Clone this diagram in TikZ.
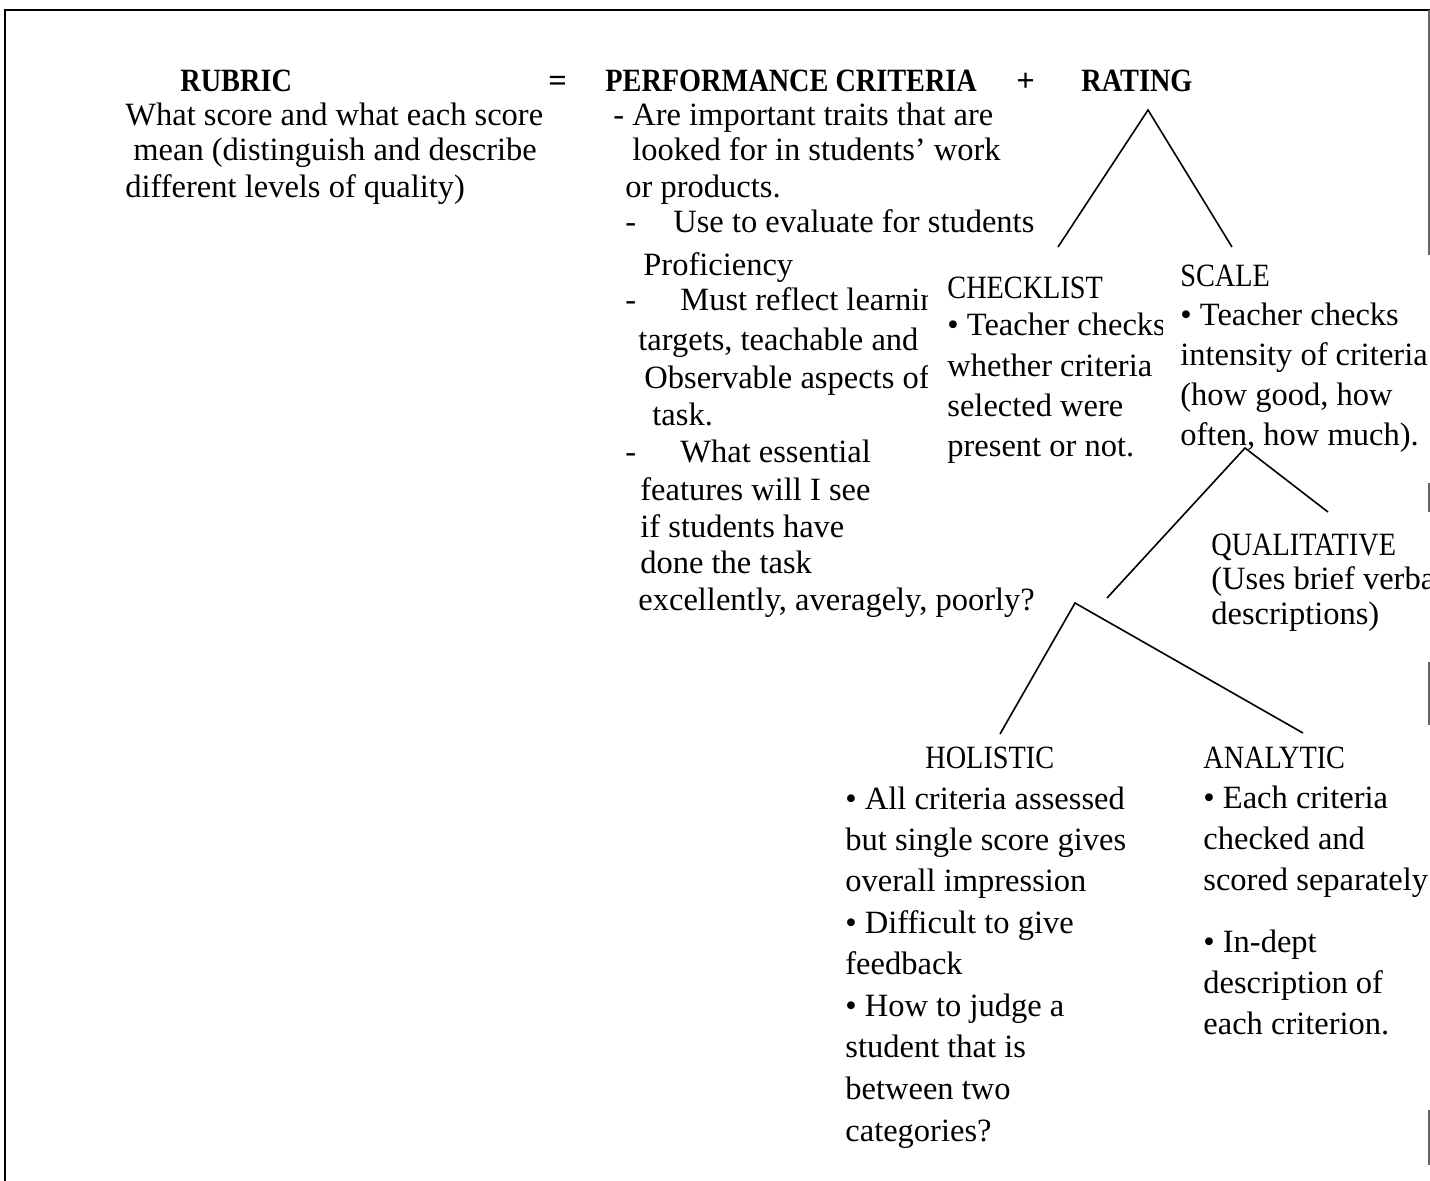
\documentclass[tikz,border=0pt]{standalone}
\usepackage{fontspec}
\setmainfont{Liberation Serif}
\usepackage{graphicx}
\newcommand\capsq[1]{\scalebox{0.87}[1]{#1}}
\begin{document}
\begin{tikzpicture}[x=0.5pt,y=-0.5pt,
  txt/.style={anchor=base west,inner sep=0pt,font=\fontsize{16.25}{20}\selectfont},
  ttl/.style={anchor=base west,inner sep=0pt,font=\fontsize{16.25}{20}\selectfont\bfseries},
  conn/.style={line width=0.8pt},
  frame/.style={line width=1.1pt},
  rframe/.style={line width=0.7pt,black!60},
  mask/.style={fill=white,draw=none}]
\useasboundingbox (0,0) rectangle (1430,1180);

% frame
\draw[frame] (5,1185) -- (5,10) -- (1430,10);
\draw[rframe] (1429,10) -- (1429,255);
\draw[rframe] (1429,483) -- (1429,512);
\draw[rframe] (1429,662) -- (1429,725);
\draw[rframe] (1429,1110) -- (1429,1165);

% title row
\node[ttl] (rub) at (180,91) {\capsq{RUBRIC}};
\node[ttl] (eq) at (548,91) {=};
\node[ttl] (pc) at (605,91) {\capsq{PERFORMANCE CRITERIA}};
\node[ttl] (plus) at (1016,91) {+};
\node[ttl] (rat) at (1081,91) {\capsq{RATING}};

% rubric text
\node[txt] (r1) at (125,125) {What score and what each score};
\node[txt] (r2) at (133,160) {mean (distinguish and describe};
\node[txt] (r3) at (125,197) {different levels of quality)};

% performance criteria text
\node[txt] (p1) at (613,125) {- Are important traits that are};
\node[txt] (p2) at (632,160) {looked for in students’ work};
\node[txt] (p3) at (625,197) {or products.};
\node[txt] (p4) at (625,232) {\makebox[24pt][l]{-}Use to evaluate for students};
\node[txt] (p5) at (643,275) {Proficiency};
\node[txt] (p6) at (625,310) {\makebox[27.5pt][l]{-}Must reflect learning};
\node[txt] (p7) at (638,350) {targets, teachable and};
\node[txt] (p8) at (644,388) {Observable aspects of};
\node[txt] (p9) at (652,425) {task.};
\node[txt] (p10) at (625,462) {\makebox[27.5pt][l]{-}What essential};
\node[txt] (p11) at (640,500) {features will I see};
\node[txt] (p12) at (640,537) {if students have};
\node[txt] (p13) at (640,573) {done the task};
\node[txt] (p14) at (638,610) {excellently, averagely, poorly?};

% checklist box
\fill[mask] (928,262) rectangle (1163,475);
\node[txt] (c1) at (947,298) {\capsq{CHECKLIST}};
\node[txt] (c2) at (947,335) {• Teacher checks};
\node[txt] (c3) at (947,376) {whether criteria};
\node[txt] (c4) at (947,416) {selected were};
\node[txt] (c5) at (947,456) {present or not.};

% scale box
\fill[mask] (1163,255) rectangle (1440,483);
\node[txt] (s1) at (1180,286) {\capsq{SCALE}};
\node[txt] (s2) at (1180,325) {• Teacher checks};
\node[txt] (s3) at (1180,365) {intensity of criteria};
\node[txt] (s4) at (1180,405) {(how good, how};
\node[txt] (s5) at (1180,445) {often, how much).};

% qualitative
\node[txt] (q1) at (1211,555) {\capsq{QUALITATIVE}};
\node[txt] (q2) at (1211,589) {(Uses brief verbal};
\node[txt] (q3) at (1211,624) {descriptions)};

% holistic
\node[txt] (h0) at (925,768) {\capsq{HOLISTIC}};
\node[txt] (h1) at (845,809) {• All criteria assessed};
\node[txt] (h2) at (845,850) {but single score gives};
\node[txt] (h3) at (845,891) {overall impression};
\node[txt] (h4) at (845,933) {• Difficult to give};
\node[txt] (h5) at (845,974) {feedback};
\node[txt] (h6) at (845,1016) {• How to judge a};
\node[txt] (h7) at (845,1057) {student that is};
\node[txt] (h8) at (845,1099) {between two};
\node[txt] (h9) at (845,1141) {categories?};

% analytic
\node[txt] (a0) at (1203,768) {\capsq{ANALYTIC}};
\node[txt] (a1) at (1203,808) {• Each criteria};
\node[txt] (a2) at (1203,849) {checked and};
\node[txt] (a3) at (1203,890) {scored separately};
\node[txt] (a4) at (1203,952) {• In-dept};
\node[txt] (a5) at (1203,993) {description of};
\node[txt] (a6) at (1203,1034) {each criterion.};

% connector coordinates
\coordinate (ratApex) at (1148,110);
\coordinate (chkTop) at (1058,247);
\coordinate (sclTop) at (1232,247);
\coordinate (sclApex) at (1245,448);
\coordinate (qualTop) at (1328,512);
\coordinate (qntTop) at (1107,598);
\coordinate (qntApex) at (1075,603);
\coordinate (holTop) at (1000,734);
\coordinate (anaTop) at (1303,733);

\draw[conn] (chkTop) -- (ratApex) -- (sclTop);
\draw[conn] (qntTop) -- (sclApex) -- (qualTop);
\draw[conn] (holTop) -- (qntApex) -- (anaTop);
\end{tikzpicture}
\end{document}
